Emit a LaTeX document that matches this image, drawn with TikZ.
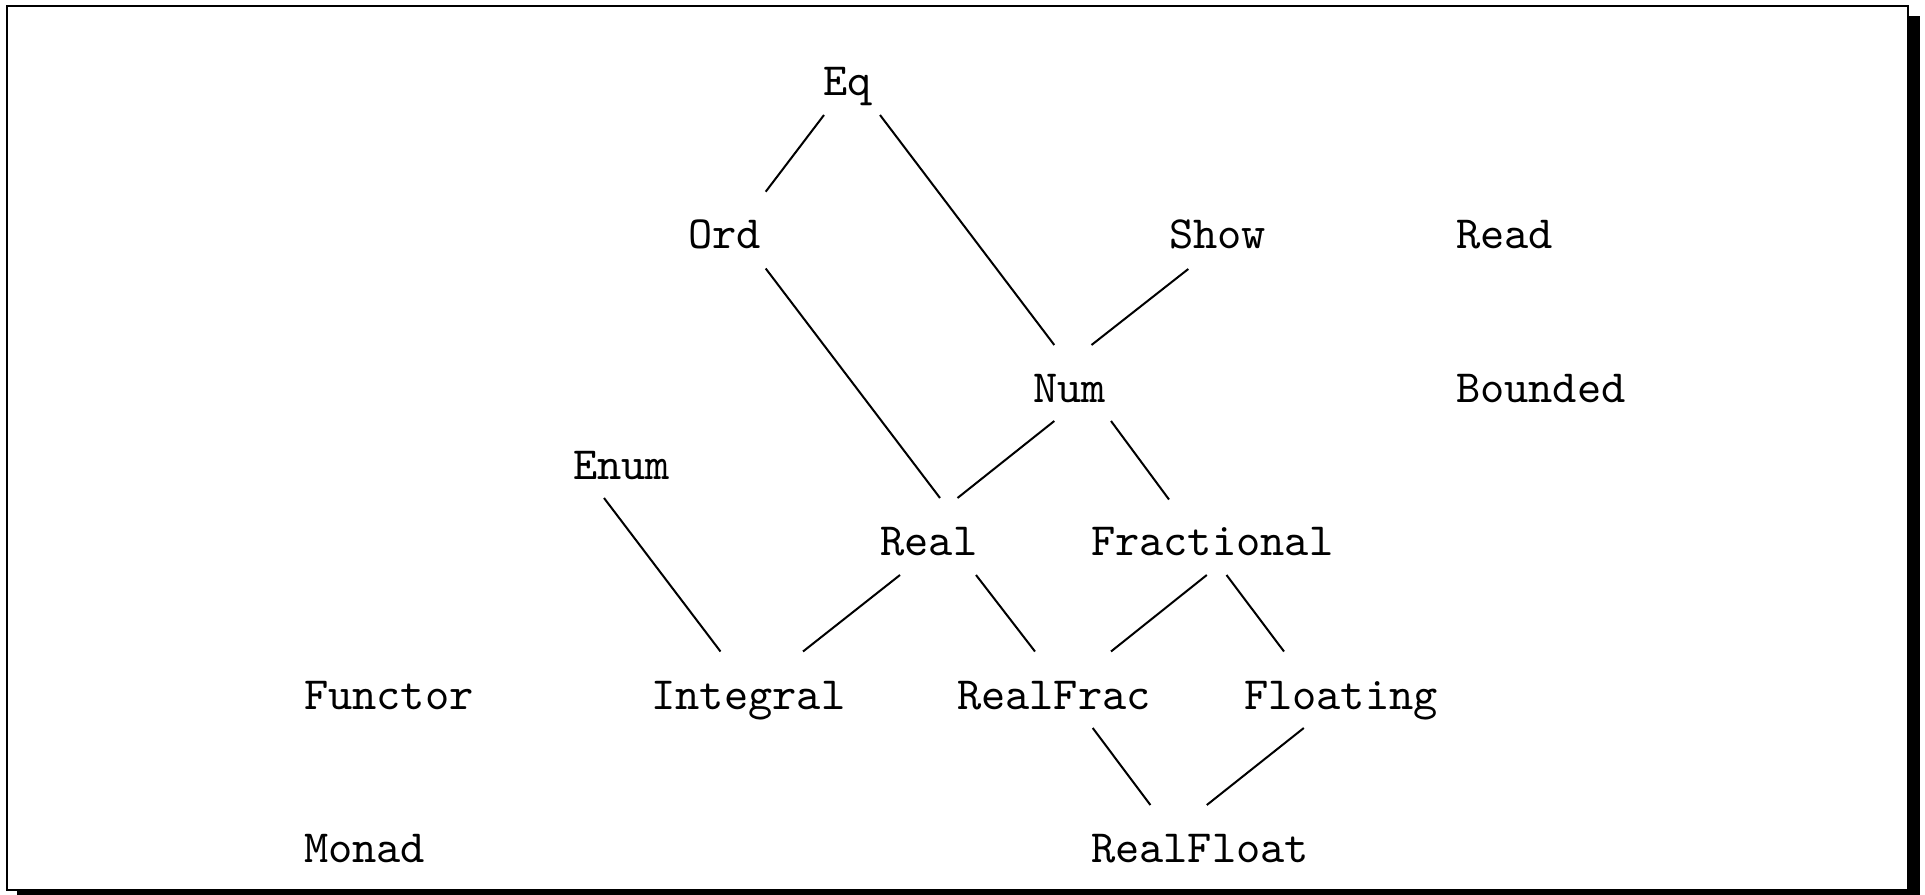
\documentclass[tikz,border=0pt]{standalone}
\usepackage{fontspec}
\newfontfamily\classfont{lmmono10-regular.otf}
\begin{document}
\begin{tikzpicture}[x=0.3pt,y=-0.3pt,
  cls/.style={anchor=base west,inner sep=0pt,outer sep=0pt,font=\classfont\fontsize{13.85}{16}\selectfont},
  edge/.style={line width=0.6pt}]
\useasboundingbox (0,0) rectangle (1925,895);
% shadow and frame
\fill[black] (1908,16) rectangle (1920,895);
\fill[black] (17,890) rectangle (1920,895);
\draw[line width=0.8pt,fill=white] (7,6) rectangle (1908,890);
% classes
\node[cls] (Eq) at (823,95) {Eq};
\node[cls] (Ord) at (688,248.5) {Ord};
\node[cls] (Show) at (1169,248.5) {Show};
\node[cls] (Read) at (1456,248.5) {Read};
\node[cls] (Num) at (1033,402) {Num};
\node[cls] (Bounded) at (1456,402) {Bounded};
\node[cls] (Enum) at (573,479) {Enum};
\node[cls] (Real) at (880.5,555.5) {Real};
\node[cls] (Fractional) at (1091,555.5) {Fractional};
\node[cls] (Functor) at (304,709) {Functor};
\node[cls] (Integral) at (651.5,709) {Integral};
\node[cls] (RealFrac) at (957,709) {RealFrac};
\node[cls] (Floating) at (1244,709) {Floating};
\node[cls] (Monad) at (304,862.5) {Monad};
\node[cls] (RealFloat) at (1091,862.5) {RealFloat};
% connectors
\draw[edge] ([shift={(1,20)}]Eq.base west) -- ([shift={(77.7,-56.8)}]Ord.base west);
\draw[edge] ([shift={(57,20)}]Eq.base west) -- ([shift={(21.3,-57)}]Num.base west);
\draw[edge] ([shift={(19.3,20.5)}]Show.base west) -- ([shift={(58.5,-57)}]Num.base west);
\draw[edge] ([shift={(77.7,20)}]Ord.base west) -- ([shift={(59.5,-57.5)}]Real.base west);
\draw[edge] ([shift={(21.3,19)}]Num.base west) -- ([shift={(77,-57.5)}]Real.base west);
\draw[edge] ([shift={(78,19)}]Num.base west) -- ([shift={(78,-56)}]Fractional.base west);
\draw[edge] ([shift={(31,19)}]Enum.base west) -- ([shift={(69,-57.5)}]Integral.base west);
\draw[edge] ([shift={(19.5,19.5)}]Real.base west) -- ([shift={(151.5,-57.5)}]Integral.base west);
\draw[edge] ([shift={(95.5,19.5)}]Real.base west) -- ([shift={(78,-57.5)}]RealFrac.base west);
\draw[edge] ([shift={(115.8,19.5)}]Fractional.base west) -- ([shift={(154,-57.5)}]RealFrac.base west);
\draw[edge] ([shift={(135.5,19.5)}]Fractional.base west) -- ([shift={(40,-57.5)}]Floating.base west);
\draw[edge] ([shift={(135.7,19)}]RealFrac.base west) -- ([shift={(59.4,-57.5)}]RealFloat.base west);
\draw[edge] ([shift={(59.8,19)}]Floating.base west) -- ([shift={(115.8,-57.5)}]RealFloat.base west);
\end{tikzpicture}
\end{document}
